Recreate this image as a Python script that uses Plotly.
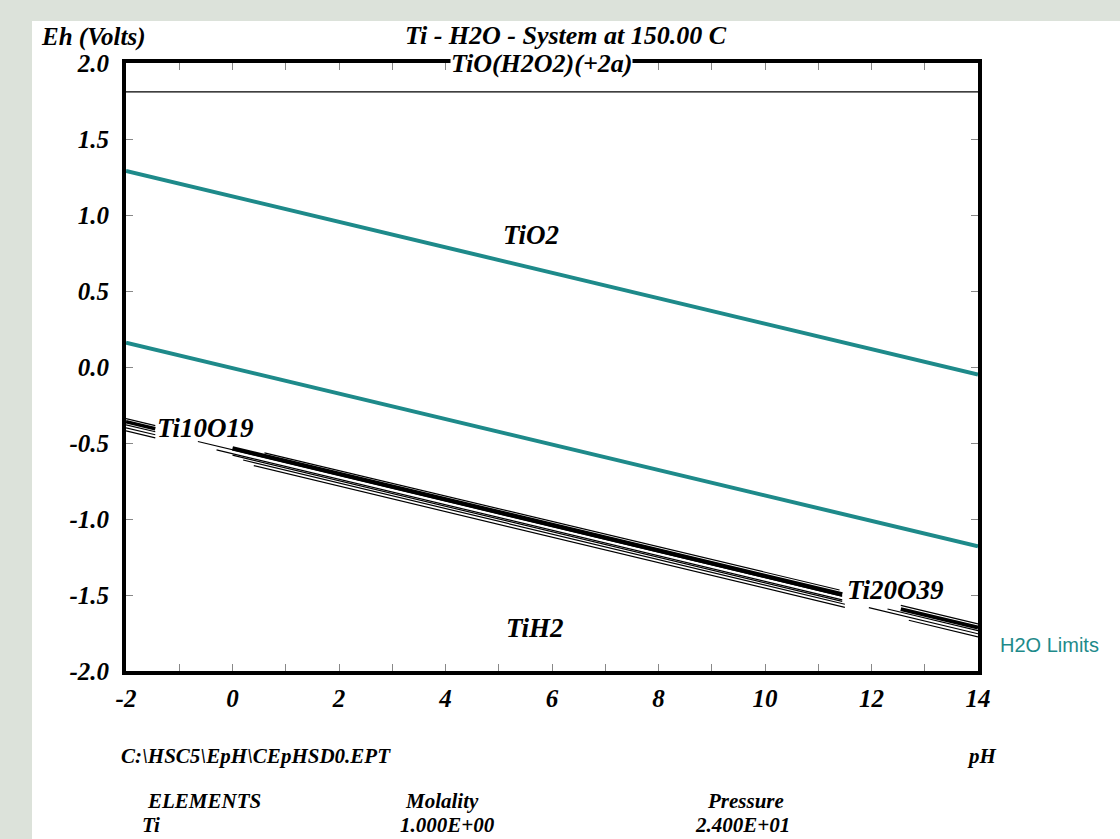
import plotly.graph_objects as go

# ---------------- data ----------------
ph_range = [-2, 14]
eh_range = [-2, 2]
x_ticks = [-2, 0, 2, 4, 6, 8, 10, 12, 14]
y_ticks = [-2.0, -1.5, -1.0, -0.5, 0.0, 0.5, 1.0, 1.5, 2.0]

# H2O stability limits (teal)
o2_ph = [-2, 14]
o2_eh = [1.29, -0.05]
h2_ph = [-2, 14]
h2_eh = [0.16, -1.18]

# TiO(H2O2)(+2a) / TiO2 boundary
top_ph = [-2, 14]
top_eh = [1.81, 1.81]

# Ti10O19 bundle (thin lines)
a_ph0 = [-2, -2, -2, -2]
a_ph1 = [-1.45, -1.45, -1.45, -1.45]
a_eh0 = [-0.34, -0.38, -0.40, -0.42]
a_eh1 = [-0.386, -0.426, -0.446, -0.466]
# Ti10O19 bundle (heavy line)
a_heavy_ph = [-2, -1.45]
a_heavy_eh = [-0.36, -0.406]

# main Ti-oxide bundle (thin lines)
b_ph0 = [0.6, -0.65, -0.3, 0.0, 0.2, 0.4]
b_ph1 = [11.4, 11.45, 11.45, 11.45, 11.5, 11.5]
b_eh0 = [-0.565, -0.490, -0.545, -0.580, -0.612, -0.649]
b_eh1 = [-1.467, -1.507, -1.532, -1.542, -1.561, -1.581]
# main bundle heavy line
b_heavy_ph = [0.0, 11.45]
b_heavy_eh = [-0.535, -1.497]

# Ti20O39 bundle (thin lines)
c_ph0 = [12.55, 12.3, 11.95, 12.7]
c_ph1 = [14, 14, 14, 14]
c_eh0 = [-1.568, -1.592, -1.583, -1.666]
c_eh1 = [-1.690, -1.735, -1.755, -1.775]
# Ti20O39 heavy line
c_heavy_ph = [12.55, 14]
c_heavy_eh = [-1.593, -1.715]

# stability-field labels
field_names = ["TiO2", "Ti10O19", "Ti20O39", "TiH2"]
field_ph = [5.05, -1.45, 11.5, 5.1]
field_eh = [0.87, -0.40, -1.467, -1.72]

TEAL = "#1e8a8a"
SERIF = "Liberation Serif"

fig = go.Figure()


def add_line(xs, ys, color="black", width=1.2):
    fig.add_trace(go.Scatter(x=xs, y=ys, mode="lines",
                             line=dict(color=color, width=width),
                             hoverinfo="skip"))


add_line(top_ph, top_eh, width=1.3)
add_line(o2_ph, o2_eh, TEAL, 4)
add_line(h2_ph, h2_eh, TEAL, 4)

for p0, p1, e0, e1 in zip(a_ph0, a_ph1, a_eh0, a_eh1):
    add_line([p0, p1], [e0, e1])
add_line(a_heavy_ph, a_heavy_eh, width=3.5)

for p0, p1, e0, e1 in zip(b_ph0, b_ph1, b_eh0, b_eh1):
    add_line([p0, p1], [e0, e1])
add_line(b_heavy_ph, b_heavy_eh, width=4.5)

for p0, p1, e0, e1 in zip(c_ph0, c_ph1, c_eh0, c_eh1):
    add_line([p0, p1], [e0, e1])
add_line(c_heavy_ph, c_heavy_eh, width=4)


def bi(size):
    return dict(family=SERIF, size=size, color="black",
                weight="bold", style="italic")


# field labels
for name, px, py in zip(field_names, field_ph, field_eh):
    fig.add_annotation(x=px, y=py, text=name, showarrow=False,
                       xanchor="left", yanchor="middle", font=bi(27))

fig.add_annotation(x=5.8, y=1.995, text="TiO(H2O2)(+2a)", showarrow=False,
                   xanchor="center", yanchor="middle", font=bi(26),
                   bgcolor="white", borderpad=0)


def paper_text(text, x, y, xanchor="left", font=None):
    fig.add_annotation(x=x, y=y, xref="paper", yref="paper", text=text,
                       showarrow=False, xanchor=xanchor, yanchor="middle",
                       font=font or bi(21))


paper_text("Eh (Volts)", -0.102, 1.042, font=bi(25))
paper_text("Ti - H2O - System at 150.00 C", 0.516, 1.046, "center", font=bi(26))
paper_text("C:\\HSC5\\EpH\\CEpHSD0.EPT", -0.008, -0.140)
paper_text("pH", 0.985, -0.140)
paper_text("ELEMENTS", 0.022, -0.213)
paper_text("Ti", 0.016, -0.254)
paper_text("Molality", 0.325, -0.213)
paper_text("1.000E+00", 0.319, -0.254)
paper_text("Pressure", 0.68, -0.213)
paper_text("2.400E+01", 0.665, -0.254)
paper_text("H2O Limits", 1.023, 0.043,
           font=dict(family="Liberation Sans", size=20, color=TEAL))

# white page area
fig.add_shape(type="rect", xref="paper", yref="paper",
              x0=-0.1103, x1=1.17, y0=-0.28, y1=1.069,
              fillcolor="white", line=dict(width=0), layer="below")

fig.update_xaxes(range=ph_range, tickvals=x_ticks,
                 ticktext=[str(v) for v in x_ticks],
                 ticks="inside", ticklen=7, tickwidth=1, tickcolor="#888",
                 minor=dict(dtick=1, ticks="inside", ticklen=7, tickwidth=1,
                            tickcolor="#888"),
                 showline=True, linewidth=4, linecolor="black",
                 mirror="allticks", showgrid=False, zeroline=False,
                 tickfont=bi(25), ticklabelstandoff=2)
fig.update_yaxes(range=eh_range, tickvals=y_ticks,
                 ticktext=[f"{v:.1f}" for v in y_ticks],
                 ticks="inside", ticklen=7, tickwidth=1, tickcolor="#888",
                 showline=True, linewidth=4, linecolor="black",
                 mirror="allticks", showgrid=False, zeroline=False,
                 tickfont=bi(25), ticklabelstandoff=8)

fig.update_layout(width=1120, height=839,
                  margin=dict(l=126, r=142, t=63, b=168),
                  paper_bgcolor="#dce2da", plot_bgcolor="white",
                  showlegend=False)

fig.write_html("out.html", config={"displayModeBar": False},
               post_script="document.body.style.margin='0';"
                           "document.body.style.overflow='hidden';")
